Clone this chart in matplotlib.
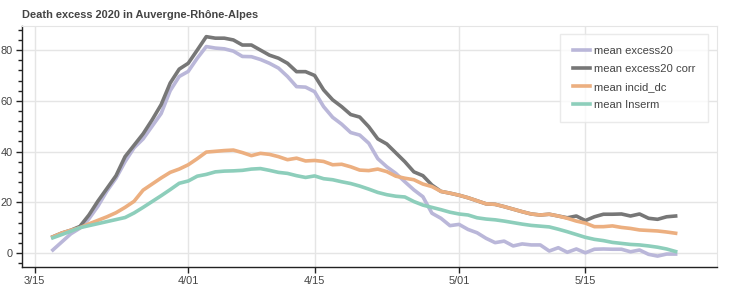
import matplotlib
matplotlib.use("Agg")
from matplotlib import pyplot as plt
from matplotlib.ticker import MultipleLocator
import pandas as pd

plt.rcParams['font.family'] = ['Liberation Sans', 'DejaVu Sans']

# daily values, 2020-03-17 .. 2020-05-25
start_day = "2020-03-17"

excess20 = [1.2, 4.4, 7.6, 9.8, 13.5, 18.5, 24.5, 29.5, 36.0, 41.5,
            45.0, 50.0, 55.0, 64.0, 69.6, 71.6, 76.8, 81.4, 80.8, 80.5,
            79.6, 77.5, 77.4, 76.3, 74.8, 72.9, 69.6, 65.6, 65.4, 63.6,
            57.7, 53.5, 50.8, 47.5, 46.5, 43.3, 37.2, 34.0, 31.4, 28.1,
            24.9, 22.2, 15.7, 13.7, 10.8, 11.3, 9.3, 8.0, 5.8, 4.1,
            4.7, 2.8, 3.6, 3.2, 3.2, 0.8, 2.1, 0.3, 1.6, 0.1,
            1.5, 1.6, 1.5, 1.5, 0.5, 1.2, -0.5, -1.2, -0.4, -0.4]

incid_dc = [6.4, 7.9, 9.0, 10.0, 11.5, 12.9, 14.3, 15.9, 18.0, 20.4,
            24.8, 27.2, 29.6, 31.8, 33.1, 34.8, 37.2, 39.8, 40.1, 40.4,
            40.6, 39.6, 38.4, 39.3, 38.9, 38.0, 36.8, 37.4, 36.3, 36.5,
            36.1, 34.8, 35.0, 34.0, 32.7, 32.5, 33.1, 32.1, 30.3, 29.5,
            28.9, 27.2, 26.2, 24.3, 23.6, 22.8, 21.8, 20.6, 19.4, 19.2,
            18.3, 17.3, 16.3, 15.4, 15.0, 15.3, 14.6, 13.7, 12.6, 11.8,
            10.4, 10.4, 10.7, 10.1, 9.7, 9.1, 8.9, 8.7, 8.3, 7.8]

excess20_corr = [6.4, 7.9, 9.0, 10.5, 15.0, 20.5, 25.5, 30.5, 38.0, 42.5,
                 47.0, 52.5, 58.5, 67.0, 72.5, 74.8, 80.0, 85.3, 84.7, 84.7,
                 84.0, 82.0, 82.0, 80.0, 78.0, 76.8, 74.8, 71.5, 71.5, 70.0,
                 64.3, 60.4, 57.7, 54.6, 53.6, 49.8, 45.0, 43.0, 39.5, 36.0,
                 32.0, 30.5, 26.8, 24.3, 23.6, 22.8, 21.8, 20.6, 19.4, 19.2,
                 18.3, 17.3, 16.3, 15.4, 15.0, 15.3, 14.6, 13.9, 14.6, 12.8,
                 14.3, 15.3, 15.3, 15.4, 14.6, 15.4, 13.7, 13.3, 14.3, 14.6]

inserm = [6.0, 7.3, 8.6, 10.0, 10.8, 11.6, 12.4, 13.2, 14.0, 15.8,
          18.0, 20.3, 22.6, 25.0, 27.5, 28.4, 30.3, 31.0, 32.0, 32.3,
          32.4, 32.6, 33.1, 33.3, 32.6, 31.8, 31.4, 30.5, 29.8, 30.4,
          29.3, 28.9, 28.1, 27.4, 26.4, 25.2, 23.9, 23.0, 22.4, 22.1,
          20.3, 18.9, 18.0, 17.1, 16.1, 15.4, 15.0, 13.9, 13.4, 13.1,
          12.6, 12.0, 11.4, 10.9, 10.6, 10.3, 9.4, 8.4, 7.3, 6.2,
          5.4, 4.9, 4.2, 3.8, 3.4, 3.2, 2.8, 2.3, 1.6, 0.6]

tick_dates = ["2020-03-15", "2020-04-01", "2020-04-15", "2020-05-01", "2020-05-15"]
tick_labels = ["3/15", "4/01", "4/15", "5/01", "5/15"]

days = pd.date_range(start_day, periods=len(excess20), freq="D")

fig = plt.figure(figsize=(7.41, 2.89), dpi=100)
ax = fig.add_axes([22 / 741, 22 / 289, 695 / 741, 241 / 289])

lw = 2.6
ax.plot(days, excess20, color="#bab7d9", lw=lw, label="mean excess20")
ax.plot(days, excess20_corr, color="#777777", lw=lw, label="mean excess20 corr")
ax.plot(days, incid_dc, color="#ecaf80", lw=lw, label="mean incid_dc")
ax.plot(days, inserm, color="#8dcebb", lw=lw, label="mean Inserm")

ax.set_xlim(pd.Timestamp("2020-03-13 14:00"), pd.Timestamp("2020-05-29 14:00"))
ax.set_ylim(-5.5, 89.5)

ax.set_xticks(pd.to_datetime(tick_dates))
ax.set_xticklabels(tick_labels)
ax.set_yticks([0, 20, 40, 60, 80])
ax.yaxis.set_minor_locator(MultipleLocator(4))

ax.grid(True, color="#e5e5e5", lw=1)
ax.set_axisbelow(True)
for s in ["top", "right"]:
    ax.spines[s].set_color("#e5e5e5")
for s in ["left", "bottom"]:
    ax.spines[s].set_color("#222222")
    ax.spines[s].set_linewidth(1)

ax.tick_params(axis="both", which="major", direction="out", length=4.5,
               width=1, color="#222222", labelsize=7.9, labelcolor="#444444", pad=2)
ax.tick_params(axis="y", which="minor", direction="out", length=3, width=1, color="#222222")
ax.tick_params(axis="x", which="minor", length=0)

fig.text(22 / 741, 1 - 15 / 289, "Death excess 2020 in Auvergne-Rhône-Alpes",
         fontsize=7.9, fontweight="bold", color="#444444", va="center", ha="left")

leg = ax.legend(loc="upper right", bbox_to_anchor=(0.987, 0.967), fontsize=8.1,
                frameon=True, fancybox=False, handlelength=1.5, handletextpad=0.4,
                labelspacing=0.7, borderpad=1.1, borderaxespad=0)
leg.get_frame().set_edgecolor("#e5e5e5")
leg.get_frame().set_linewidth(1)
for t in leg.get_texts():
    t.set_color("#444444")

fig.savefig("out.png", dpi=100)
